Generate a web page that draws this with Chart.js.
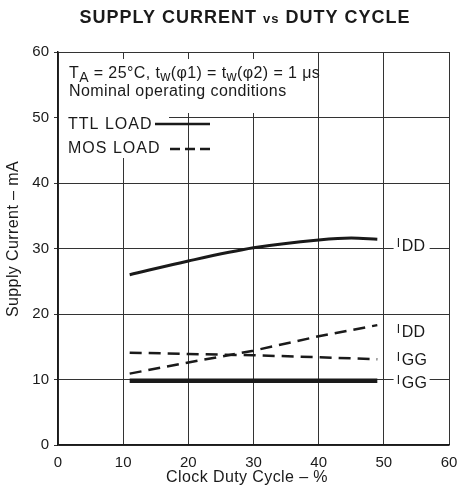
<!DOCTYPE html>
<html>
<head>
<meta charset="utf-8">
<script src="https://cdn.jsdelivr.net/npm/chart.js@4.4.0/dist/chart.umd.min.js"></script>
<style>
  html, body { margin: 0; padding: 0; background: #fff; }
  #wrap { width: 457px; height: 491px; }
</style>
</head>
<body>
<div id="wrap"><canvas id="grafico"></canvas></div>
<script>
// clock duty cycle (%) and supply current (mA)
const dutyTtl = [11, 20, 30, 40, 45, 49];
const ttlIdd = [26.0, 28.1, 30.1, 31.3, 31.6, 31.4];
const dutyTtlIgg = [11, 49];
const ttlIgg = [9.8, 9.8];
const dutyMos = [11, 20, 30, 40, 49];
const mosIdd = [10.9, 12.6, 14.4, 16.6, 18.3];
const mosIgg = [14.1, 13.9, 13.7, 13.4, 13.1];
const xTicks = [0, 10, 20, 30, 40, 50, 60];
const yTicks = [0, 10, 20, 30, 40, 50, 60];

const FONT = '"Liberation Sans", Arial, sans-serif';
const INK = '#1a1a1a';

function pares(xs, ys) {
  return xs.map((x, i) => ({ x: x, y: ys[i] }));
}

// escreve pedaços de texto seguidos, cada um com tamanho e deslocamento próprios
function escrever(ctx, partes, x, y, peso, espaco) {
  ctx.letterSpacing = espaco + 'px';
  partes.forEach(([t, s, dy]) => {
    ctx.font = peso + ' ' + s + 'px ' + FONT;
    ctx.fillText(t, x, y + (dy || 0));
    x += ctx.measureText(t).width;
  });
  return x;
}

function largura(ctx, partes, peso, espaco) {
  ctx.letterSpacing = espaco + 'px';
  let w = 0;
  partes.forEach(([t, s]) => {
    ctx.font = peso + ' ' + s + 'px ' + FONT;
    w += ctx.measureText(t).width;
  });
  return w;
}

// textos dentro do gráfico: condições, legenda e rótulos das curvas
const textos = {
  id: 'textos',
  beforeDatasetsDraw(chart) {
    const { ctx, chartArea: a } = chart;
    const sx = chart.scales.x, sy = chart.scales.y;
    ctx.save();
    ctx.fillStyle = '#fff';
    // fundo branco por trás das condições e da legenda
    ctx.fillRect(a.left + 1, a.top + 7, 258, 54);
    ctx.fillRect(a.left + 1, a.top + 61, 110, 45);
    // fundo dos rótulos IDD / IGG
    [30, 10].forEach(v => {
      ctx.fillRect(sx.getPixelForValue(51.5), sy.getPixelForValue(v) - 3, 36, 6);
    });
    ctx.restore();
  },
  afterDatasetsDraw(chart) {
    const { ctx, chartArea: a } = chart;
    const sx = chart.scales.x, sy = chart.scales.y;
    ctx.save();
    ctx.fillStyle = INK;
    ctx.strokeStyle = INK;
    ctx.textBaseline = 'alphabetic';
    ctx.textAlign = 'left';

    // TA = 25°C, tw(φ1) = tw(φ2) = 1 μs
    escrever(ctx, [
      ['T', 16], ['A', 14, 4], [' = 25°C, t', 16], ['w', 14, 3], ['(φ1) = t', 16],
      ['w', 14, 3], ['(φ2) = 1 μs', 16]
    ], a.left + 11, a.top + 26, '', 0.4);
    escrever(ctx, [['Nominal operating conditions', 16]], a.left + 11, a.top + 44, '', 0.4);

    // legenda
    escrever(ctx, [['TTL LOAD', 16]], a.left + 10, a.top + 77, '', 1);
    escrever(ctx, [['MOS LOAD', 16]], a.left + 10, a.top + 101, '', 1);
    ctx.lineWidth = 2.5;
    ctx.beginPath();
    ctx.moveTo(a.left + 97, a.top + 72);
    ctx.lineTo(a.left + 152, a.top + 72);
    ctx.stroke();
    ctx.setLineDash([10, 5]);
    ctx.beginPath();
    ctx.moveTo(a.left + 112, a.top + 97);
    ctx.lineTo(a.left + 155, a.top + 97);
    ctx.stroke();
    ctx.setLineDash([]);

    // rótulos das curvas
    const rotulos = [['DD', 29.6], ['DD', 16.5], ['GG', 12.2], ['GG', 8.7]];
    rotulos.forEach(([sub, v]) => {
      const px = sx.getPixelForValue(52);
      const py = sy.getPixelForValue(v);
      escrever(ctx, [['I', 12, -4], [' ', 3], [sub, 16]], px, py, '', 0.3);
    });
    ctx.restore();
  },
  afterDraw(chart) {
    const { ctx } = chart;
    ctx.save();
    ctx.fillStyle = INK;
    ctx.textBaseline = 'alphabetic';
    ctx.textAlign = 'left';

    // título com "vs" menor
    const titulo = [['SUPPLY CURRENT ', 18], ['vs', 13], [' DUTY CYCLE', 18]];
    const w = largura(ctx, titulo, 'bold', 1);
    escrever(ctx, titulo, 245 - w / 2, 23, 'bold', 1);

    // títulos dos eixos
    const tx = [['Clock Duty Cycle – %', 16]];
    escrever(ctx, tx, 247 - largura(ctx, tx, '', 0.4) / 2, 482, '', 0.4);
    ctx.translate(18, 239);
    ctx.rotate(-Math.PI / 2);
    const ty = [['Supply Current – mA', 16]];
    escrever(ctx, ty, -largura(ctx, ty, '', 0.4) / 2, 0, '', 0.4);
    ctx.restore();
  }
};

const ctx = document.getElementById('grafico').getContext('2d');
new Chart(ctx, {
  type: 'line',
  data: {
    datasets: [
      { label: 'TTL IDD', data: pares(dutyTtl, ttlIdd), borderWidth: 3, cubicInterpolationMode: 'monotone' },
      { label: 'TTL IGG', data: pares(dutyTtlIgg, ttlIgg), borderWidth: 4.5 },
      { label: 'MOS IDD', data: pares(dutyMos, mosIdd), borderWidth: 2.5, borderDash: [12, 7] },
      { label: 'MOS IGG', data: pares(dutyMos, mosIgg), borderWidth: 2.5, borderDash: [12, 7] }
    ].map(d => Object.assign({
      borderColor: INK,
      pointRadius: 0,
      fill: false,
      borderCapStyle: 'butt'
    }, d))
  },
  options: {
    responsive: true,
    maintainAspectRatio: false,
    animation: false,
    layout: { padding: { top: 52, right: 8, left: 0, bottom: 0 } },
    plugins: {
      legend: { display: false },
      title: { display: false },
      tooltip: { enabled: false }
    },
    scales: {
      x: {
        type: 'linear',
        min: 0,
        max: 60,
        afterFit: s => { s.height = 46; s.paddingLeft = 0; s.paddingRight = 0; },
        afterBuildTicks: s => { s.ticks = xTicks.map(v => ({ value: v })); },
        grid: { color: '#333', lineWidth: 1, drawTicks: false },
        border: { color: INK, width: 1.5 },
        ticks: { color: INK, padding: 9, font: { family: FONT, size: 15 } }
      },
      y: {
        min: 0,
        max: 60,
        afterFit: s => { s.width = 58; },
        afterBuildTicks: s => { s.ticks = yTicks.map(v => ({ value: v })); },
        grid: { color: '#333', lineWidth: 1, tickLength: 4 },
        border: { color: INK, width: 1.5 },
        ticks: { color: INK, padding: 5, font: { family: FONT, size: 15 } }
      }
    }
  },
  plugins: [textos]
});
</script>
</body>
</html>
